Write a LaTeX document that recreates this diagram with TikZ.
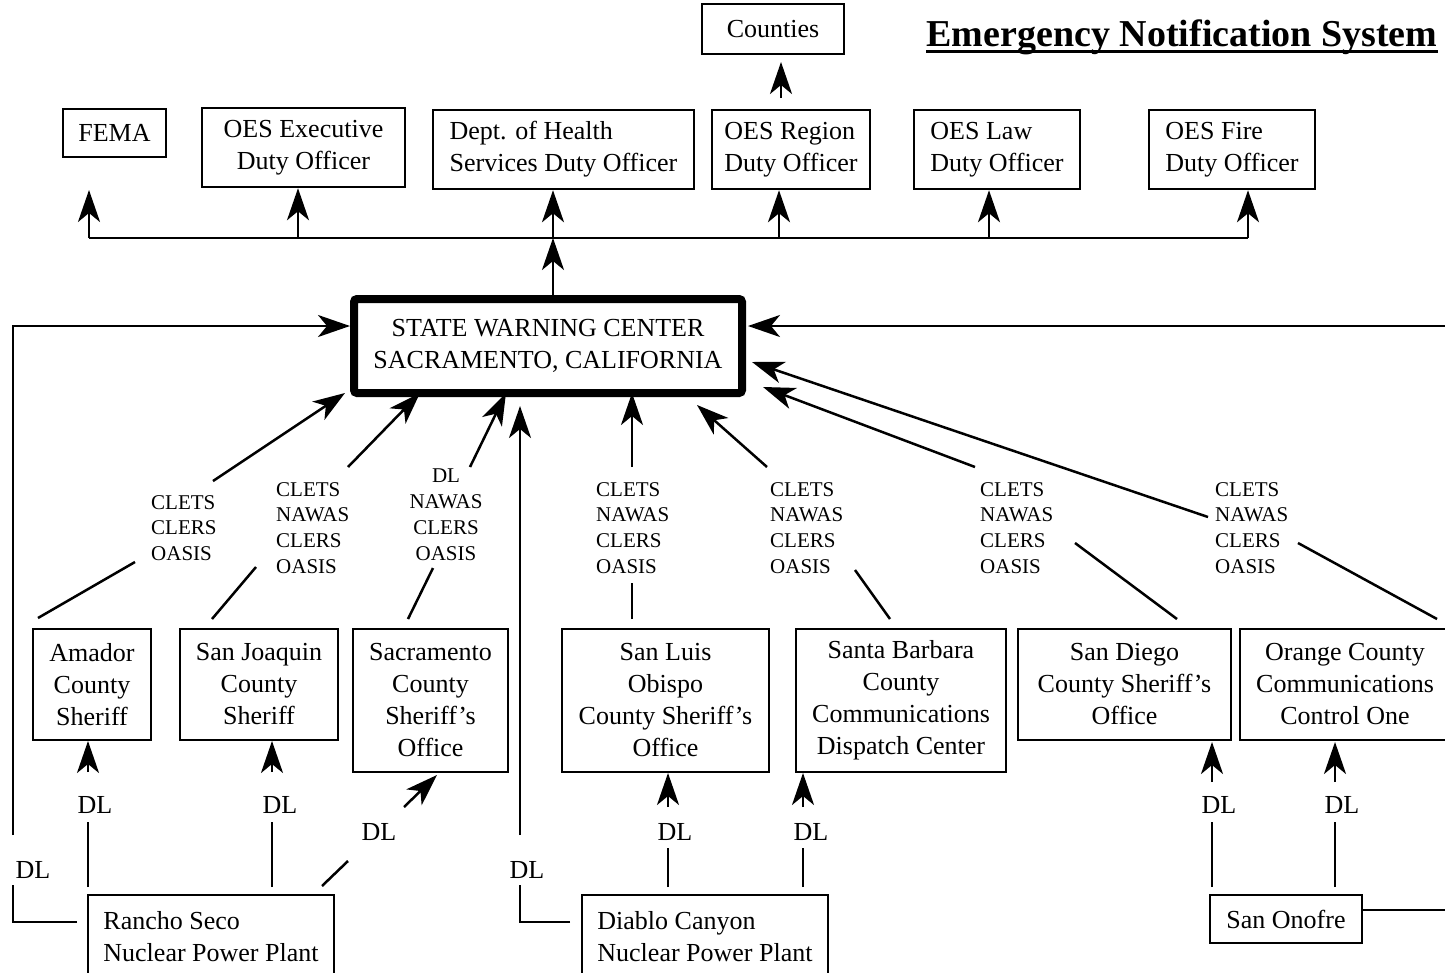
\documentclass[tikz,border=0pt]{standalone}
\usepackage{fontspec}
\setmainfont{Liberation Serif}
\usetikzlibrary{arrows.meta,calc}
\begin{document}
\begin{tikzpicture}[x=1pt,y=-1pt,
  box/.style={draw,line width=2.5pt,inner sep=0pt,align=center,font=\fontsize{26}{32}\selectfont},
  lbox/.style={box,align=left},
  lab/.style={inner sep=0pt,align=left,font=\fontsize{21}{25.7}\selectfont,anchor=north west},
  dl/.style={inner sep=0pt,font=\fontsize{26}{32}\selectfont},
  ln/.style={line width=2.5pt},
  arr/.style={line width=2.5pt,-{Stealth[length=32pt,width=22pt,inset=9pt]}},
]
\useasboundingbox (0,0) rectangle (1445,972);

% title
\node[inner sep=0pt,anchor=base,font=\fontsize{38}{44}\selectfont\bfseries] (title) at (1182,46) {Emergency Notification System};
\draw[line width=3pt] ($(title.base west)+(0,5)$) -- ($(title.base east)+(0,5)$);

% top boxes
\node[box,minimum width=142,minimum height=50] (counties) at (773,29) {Counties};
\node[box,minimum width=103,minimum height=48] (fema) at (114.5,133) {FEMA};
\node[box,minimum width=203,minimum height=79] (oesexec) at (303.5,147.5) {OES Executive\\Duty Officer};
\node[lbox,minimum width=261,minimum height=79] (doh) at (563.5,149.5) {Dept. of Health\\Services Duty Officer};
\node[lbox,minimum width=158,minimum height=79] (oesregion) at (791,149.5) {OES Region\\Duty Officer};
\node[lbox,minimum width=166,minimum height=79] (oeslaw) at (997,149.5) {OES Law\\Duty Officer};
\node[lbox,minimum width=166,minimum height=79] (oesfire) at (1232,149.5) {OES Fire\\Duty Officer};

% state warning center
\node[draw,line width=8pt,rounded corners=3pt,minimum width=388,minimum height=94,inner sep=0pt,align=center,font=\fontsize{26}{32}\selectfont] (swc) at (548,346) {STATE WARNING CENTER\\SACRAMENTO, CALIFORNIA};

% bus
\coordinate (b1) at (89,238);
\coordinate (b2) at (298,238);
\coordinate (b3) at (553,238);
\coordinate (b4) at (779,238);
\coordinate (b5) at (989,238);
\coordinate (b6) at (1248,238);
\draw[ln] (b1) -- (b6);
\draw[arr] (b1) -- (89,190);
\draw[arr] (b2) -- (b2 |- oesexec.south);
\draw[arr] (b3) -- (b3 |- doh.south);
\draw[arr] (b4) -- (b4 |- oesregion.south);
\draw[arr] (b5) -- (b5 |- oeslaw.south);
\draw[arr] (b6) -- (b6 |- oesfire.south);
\draw[arr] (b3 |- swc.north) -- (b3);
\draw[arr] (781,98) -- (781,62);

% middle boxes
\node[box,minimum width=118,minimum height=111] (amador) at (92,684.5) {Amador\\County\\Sheriff};
\node[box,minimum width=158,minimum height=111] (sanjoaquin) at (259,684.5) {San Joaquin\\County\\Sheriff};
\node[box,minimum width=155,minimum height=143] (sacramento) at (430.5,700.5) {Sacramento\\County\\Sheriff’s\\Office};
\node[box,minimum width=207,minimum height=143] (slo) at (665.5,700.5) {San Luis\\Obispo\\County Sheriff’s\\Office};
\node[box,minimum width=210,minimum height=143] (sb) at (901,700.5) {Santa Barbara\\County\\Communications\\Dispatch Center};
\node[box,minimum width=213,minimum height=111] (sd) at (1124.5,684.5) {San Diego\\County Sheriff’s\\Office};
\node[box,minimum width=210,minimum height=111] (oc) at (1345,684.5) {Orange County\\Communications\\Control One};

% bottom boxes
\node[lbox,minimum width=246,minimum height=84] (rancho) at (211,937) {Rancho Seco\\Nuclear Power Plant};
\node[lbox,minimum width=246,minimum height=84] (diablo) at (705,937) {Diablo Canyon\\Nuclear Power Plant};
\node[box,minimum width=152,minimum height=48] (sanonofre) at (1286,919) {San Onofre};

% labels
\node[lab] (l1) at (151,495) {CLETS\\CLERS\\OASIS};
\node[lab] (l2) at (276,482) {CLETS\\NAWAS\\CLERS\\OASIS};
\node[lab,align=center,anchor=north] (l3) at (446,469) {DL\\NAWAS\\CLERS\\OASIS};
\node[lab] (l4) at (596,482) {CLETS\\NAWAS\\CLERS\\OASIS};
\node[lab] (l5) at (770,482) {CLETS\\NAWAS\\CLERS\\OASIS};
\node[lab] (l6) at (980,482) {CLETS\\NAWAS\\CLERS\\OASIS};
\node[lab] (l7) at (1215,482) {CLETS\\NAWAS\\CLERS\\OASIS};

% middle connectors to state warning center
\draw[ln] (38,618) -- (135,562);
\draw[arr] (213,481) -- (345,393);
\draw[ln] (212,619) -- (256,567);
\draw[arr] (348,467) -- (420,393);
\draw[ln] (408,619) -- (433,568);
\draw[arr] (470,467) -- (506,393);
\draw[ln] (632,619) -- (632,583);
\draw[arr] (632,467) -- (632,393);
\draw[ln] (890,619) -- (855,570);
\draw[arr] (767,467) -- (697,405);
\draw[ln] (1177,619) -- (1075,543);
\draw[arr] (975,467) -- (763,387);
\draw[ln] (1437,619) -- (1298,543);
\draw[arr] (1208,517) -- (752,362);

% left loop (Rancho Seco)
\draw[ln] (77,922) -- (13,922) -- (13,885);
\node[dl] (dlL) at (33,870) {DL};
\draw[arr] (13,835) -- (13,326) -- (350,326);

% Diablo loop
\draw[ln] (570,922) -- (520,922) -- (520,885);
\node[dl] (dlD) at (527,870) {DL};
\draw[arr] (520,835) -- (520,406);

% right loop (San Onofre)
\draw[ln] (sanonofre.east |- 0,910) -- (1460,910) -- (1460,326);
\draw[arr] (1460,326) -- (748,326);

% DL links
\node[dl] (dl1) at (95,805) {DL};
\draw[ln] (88,887) -- (88,822);
\draw[arr] (88,772) -- (88,741);
\node[dl] (dl2) at (280,805) {DL};
\draw[ln] (272,887) -- (272,822);
\draw[arr] (272,772) -- (272,741);
\node[dl] (dl3) at (379,832) {DL};
\draw[ln] (322,886) -- (348,861);
\draw[arr] (404,807) -- (437,775);
\node[dl] (dl4) at (675,832) {DL};
\draw[ln] (668,887) -- (668,848);
\draw[arr] (668,807) -- (668,773);
\node[dl] (dl5) at (811,832) {DL};
\draw[ln] (803,887) -- (803,848);
\draw[arr] (803,807) -- (803,773);
\node[dl] (dl6) at (1219,805) {DL};
\draw[ln] (1212,887) -- (1212,822);
\draw[arr] (1212,782) -- (1212,742);
\node[dl] (dl7) at (1342,805) {DL};
\draw[ln] (1335,887) -- (1335,822);
\draw[arr] (1335,782) -- (1335,742);
\end{tikzpicture}
\end{document}
